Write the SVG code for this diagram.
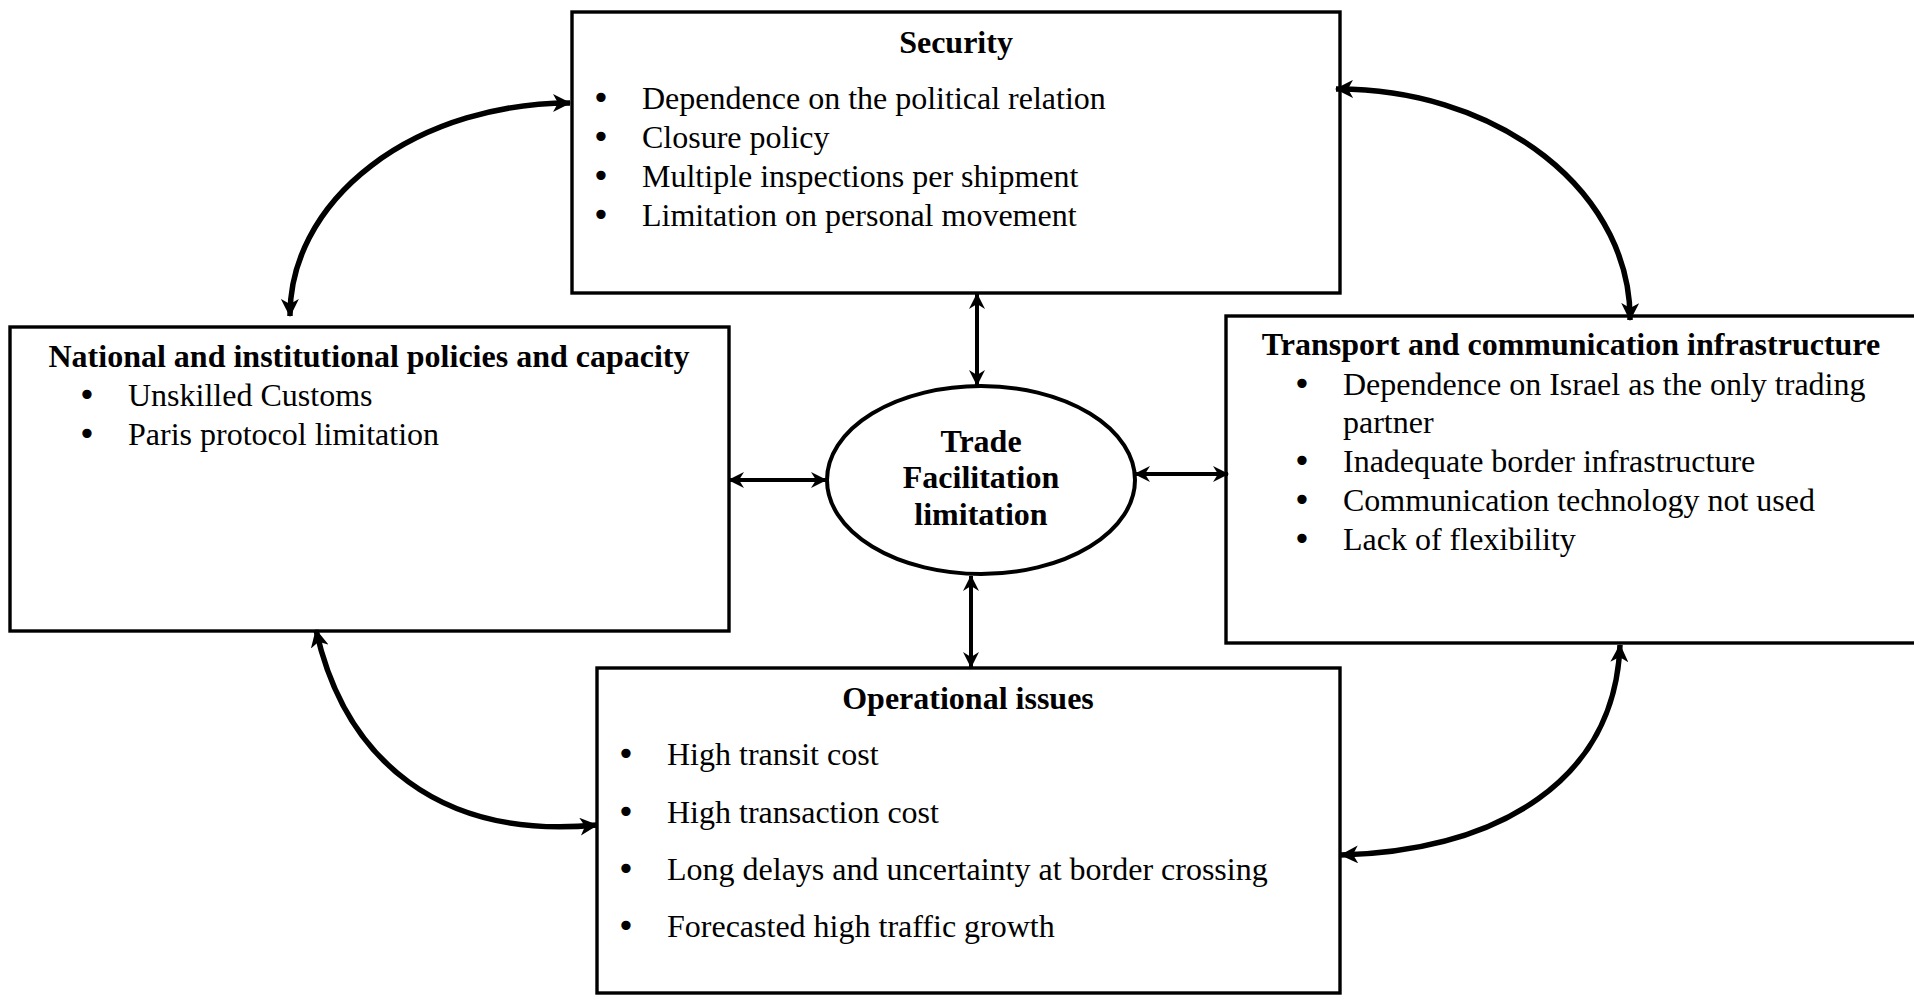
<svg xmlns="http://www.w3.org/2000/svg" width="1914" height="996" viewBox="0 0 1914 996">
<defs>
<style>
.box{fill:#fff;stroke:#000;stroke-width:3.4}
.t{font-family:"Liberation Serif","Times New Roman",serif;font-size:32px;fill:#000}
.bu{font-family:"DejaVu Sans",sans-serif;font-size:32px;fill:#000;text-anchor:middle}
.b{font-weight:bold}
.c{text-anchor:middle}
.ln{fill:none;stroke:#000;stroke-width:4;marker-start:url(#ah);marker-end:url(#ah)}
.cv{fill:none;stroke:#000;stroke-width:5.5;marker-start:url(#ahc);marker-end:url(#ahc)}
</style>
<marker id="ah" markerUnits="userSpaceOnUse" viewBox="0 0 16 16" refX="15" refY="8" markerWidth="16" markerHeight="16" orient="auto-start-reverse">
<path d="M0,0 L16,8 L0,16 L5,8 z" fill="#000"/>
</marker>
<marker id="ahc" markerUnits="userSpaceOnUse" viewBox="0 0 18 18" refX="17" refY="9" markerWidth="18" markerHeight="18" orient="auto-start-reverse">
<path d="M0,0 L18,9 L0,18 L5,9 z" fill="#000"/>
</marker>
</defs>
<rect width="1914" height="996" fill="#fff"/>

<g id="security">
<rect class="box" x="572" y="12" width="768" height="281"/>
<text class="t b c" x="956" y="53">Security</text>
<g class="bu">
<text x="601" y="109">•</text>
<text x="601" y="148">•</text>
<text x="601" y="187">•</text>
<text x="601" y="226">•</text>
</g>
<g class="t">
<text x="642" y="109">Dependence on the political relation</text>
<text x="642" y="148">Closure policy</text>
<text x="642" y="187">Multiple inspections per shipment</text>
<text x="642" y="226">Limitation on personal movement</text>
</g>
</g>

<g id="national">
<rect class="box" x="10" y="327" width="719" height="304"/>
<text class="t b c" x="369" y="367">National and institutional policies and capacity</text>
<g class="bu">
<text x="87" y="406">•</text>
<text x="87" y="445">•</text>
</g>
<g class="t">
<text x="128" y="406">Unskilled Customs</text>
<text x="128" y="445">Paris protocol limitation</text>
</g>
</g>

<g id="transport">
<rect class="box" x="1226" y="316" width="692" height="327"/>
<text class="t b c" x="1571" y="355">Transport and communication infrastructure</text>
<g class="bu">
<text x="1302" y="395">•</text>
<text x="1302" y="472">•</text>
<text x="1302" y="511">•</text>
<text x="1302" y="550">•</text>
</g>
<g class="t">
<text x="1343" y="395">Dependence on Israel as the only trading</text>
<text x="1343" y="433">partner</text>
<text x="1343" y="472">Inadequate border infrastructure</text>
<text x="1343" y="511">Communication technology not used</text>
<text x="1343" y="550">Lack of flexibility</text>
</g>
</g>

<g id="operational">
<rect class="box" x="597" y="668" width="743" height="325"/>
<text class="t b c" x="968" y="709">Operational issues</text>
<g class="bu">
<text x="626" y="765">•</text>
<text x="626" y="823">•</text>
<text x="626" y="880">•</text>
<text x="626" y="937">•</text>
</g>
<g class="t">
<text x="667" y="765">High transit cost</text>
<text x="667" y="823">High transaction cost</text>
<text x="667" y="880">Long delays and uncertainty at border crossing</text>
<text x="667" y="937">Forecasted high traffic growth</text>
</g>
</g>

<g id="center">
<ellipse cx="981" cy="480" rx="154" ry="94" fill="#fff" stroke="#000" stroke-width="4"/>
<text class="t b c" x="981" y="452">Trade</text>
<text class="t b c" x="981" y="488">Facilitation</text>
<text class="t b c" x="981" y="525">limitation</text>
</g>

<g id="connectors">
<path class="ln" d="M977 294 L977 385"/>
<path class="ln" d="M971 576 L971 667"/>
<path class="ln" d="M729 480 L826 480"/>
<path class="ln" d="M1135 474 L1228 474"/>
<path class="cv" d="M570 103 A280 212 0 0 0 290 316"/>
<path class="cv" d="M1336 89 A292 229 0 0 1 1630 320"/>
<path class="cv" d="M316 630 C345 760 440 840 597 825"/>
<path class="cv" d="M1620 645 C1615 780 1500 850 1341 855"/>
</g>
</svg>
